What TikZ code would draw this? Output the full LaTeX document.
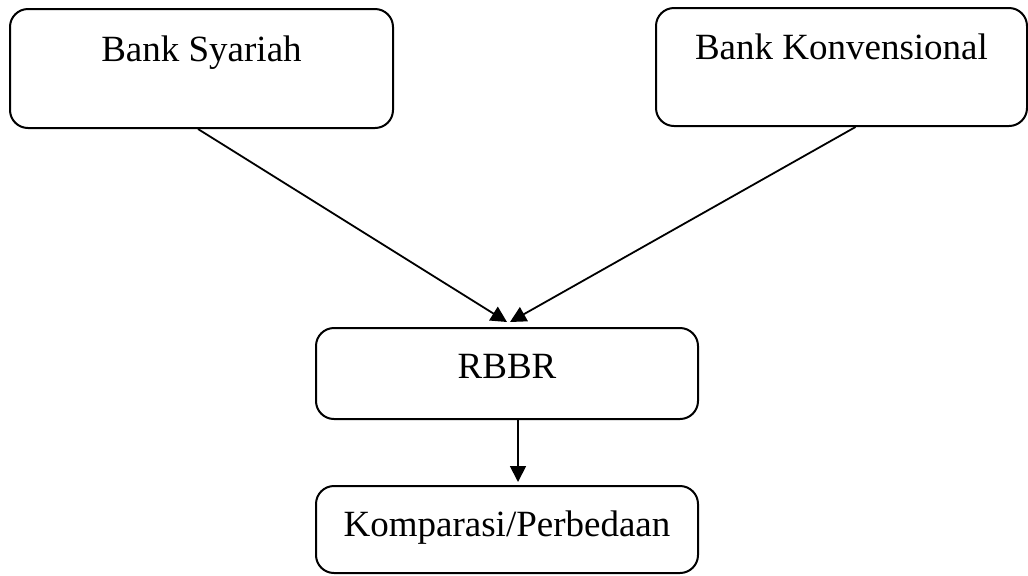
\documentclass[tikz,border=0pt]{standalone}
\usepackage{fontspec}
\setmainfont{Liberation Serif}
\usepackage{tikz}
\usetikzlibrary{arrows.meta, positioning}

\begin{document}
\begin{tikzpicture}[
  x=0.5pt, y=-0.5pt,
  box/.style={draw=black, line width=1pt, rounded corners=9pt, inner sep=0pt,
    anchor=north west, align=center, font=\fontsize{18.5}{22}\selectfont},
  arrow/.style={-{Triangle[length=8pt, width=8pt]}, line width=0.9pt}
]
  \useasboundingbox (0,0) rectangle (1028,575);

  \node[box, minimum width=191.5pt, minimum height=59.5pt,
        text height=26pt, text depth=33.5pt] (syariah) at (9,8) {Bank Syariah};
  \node[box, minimum width=185.5pt, minimum height=59pt,
        text height=25.5pt, text depth=33.5pt] (konv) at (655,7) {Bank Konvensional};
  \node[box, minimum width=191pt, minimum height=45.5pt,
        text height=25pt, text depth=20.5pt] (rbbr) at (315,327) {RBBR};
  \node[box, minimum width=191pt, minimum height=43.5pt,
        text height=25pt, text depth=18.5pt] (komp) at (315,485) {Komparasi/Perbedaan};

  % Arrows
  \draw[arrow] ([xshift=-1.75pt]syariah.south) -- ([yshift=2.5pt]rbbr.north);
  \draw[arrow] ([xshift=7pt]konv.south) -- ([xshift=1.5pt, yshift=2.5pt]rbbr.north);
  \draw[arrow] ([xshift=5.5pt]rbbr.south) -- ([xshift=5.5pt, yshift=1.5pt]komp.north);
\end{tikzpicture}
\end{document}
